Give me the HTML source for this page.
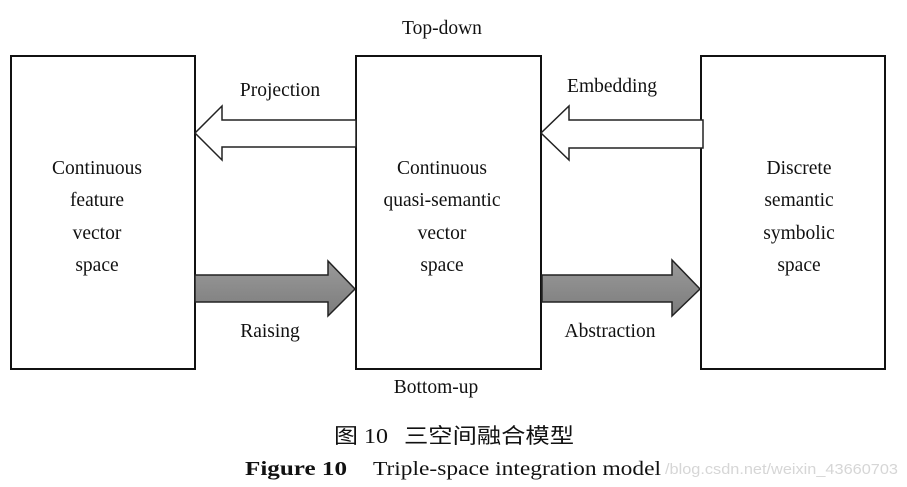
<!DOCTYPE html>
<html><head><meta charset="utf-8"><style>
html,body{margin:0;padding:0;background:#fff;width:907px;height:487px;overflow:hidden}
svg text{font-family:"Liberation Serif","Noto Serif CJK SC",serif;fill:#111}
</style></head><body>
<svg width="907" height="487" viewBox="0 0 907 487" xmlns="http://www.w3.org/2000/svg">
<defs><linearGradient id="g" x1="0" y1="0" x2="0" y2="1"><stop offset="0" stop-color="#9a9a9a"/><stop offset="1" stop-color="#7c7c7c"/></linearGradient></defs>
<g fill="none" stroke="#111" stroke-width="2">
<rect x="11" y="56" width="184" height="313"/>
<rect x="356" y="56" width="185" height="313"/>
<rect x="701" y="56" width="184" height="313"/>
</g>
<g stroke="#222" stroke-width="1.5">
<polygon fill="#fff" points="356,120 222,120 222,106 195,133 222,160 222,147 356,147"/>
<polygon fill="#fff" points="703,120 569,120 569,106 541,133 569,160 569,148 703,148"/>
<polygon fill="url(#g)" points="195,275 328,275 328,261 355,289 328,316 328,302 195,302"/>
<polygon fill="url(#g)" points="542,275 672,275 672,260 700,289 672,316 672,302 542,302"/>
</g>
<g font-size="19.5" text-anchor="middle">
<text x="442" y="34">Top-down</text>
<text x="280" y="96">Projection</text>
<text x="612" y="92">Embedding</text>
<text x="270" y="337">Raising</text>
<text x="610" y="337">Abstraction</text>
<text x="436" y="393">Bottom-up</text>
<text x="97" y="174">Continuous</text>
<text x="97" y="206">feature</text>
<text x="97" y="239">vector</text>
<text x="97" y="271">space</text>
<text x="442" y="174">Continuous</text>
<text x="442" y="206">quasi-semantic</text>
<text x="442" y="239">vector</text>
<text x="442" y="271">space</text>
<text x="799" y="174">Discrete</text>
<text x="799" y="206">semantic</text>
<text x="799" y="239">symbolic</text>
<text x="799" y="271">space</text>
</g>
<text x="334" y="443" font-size="21" textLength="54" lengthAdjust="spacingAndGlyphs" style="font-family:'Liberation Serif','Noto Sans CJK SC',serif">图 10</text>
<text x="404" y="443" font-size="21" textLength="170" lengthAdjust="spacingAndGlyphs" style="font-family:'Noto Sans CJK SC',sans-serif">三空间融合模型</text>
<text x="245" y="475" font-size="20" font-weight="bold" textLength="102" lengthAdjust="spacingAndGlyphs">Figure 10</text>
<text x="373" y="475" font-size="20" textLength="288" lengthAdjust="spacingAndGlyphs">Triple-space integration model</text>
<text x="665" y="474" font-size="15" textLength="233" lengthAdjust="spacingAndGlyphs" style="font-family:'Liberation Sans',sans-serif;fill:#d6d6d6">/blog.csdn.net/weixin_43660703</text>
</svg>
</body></html>
